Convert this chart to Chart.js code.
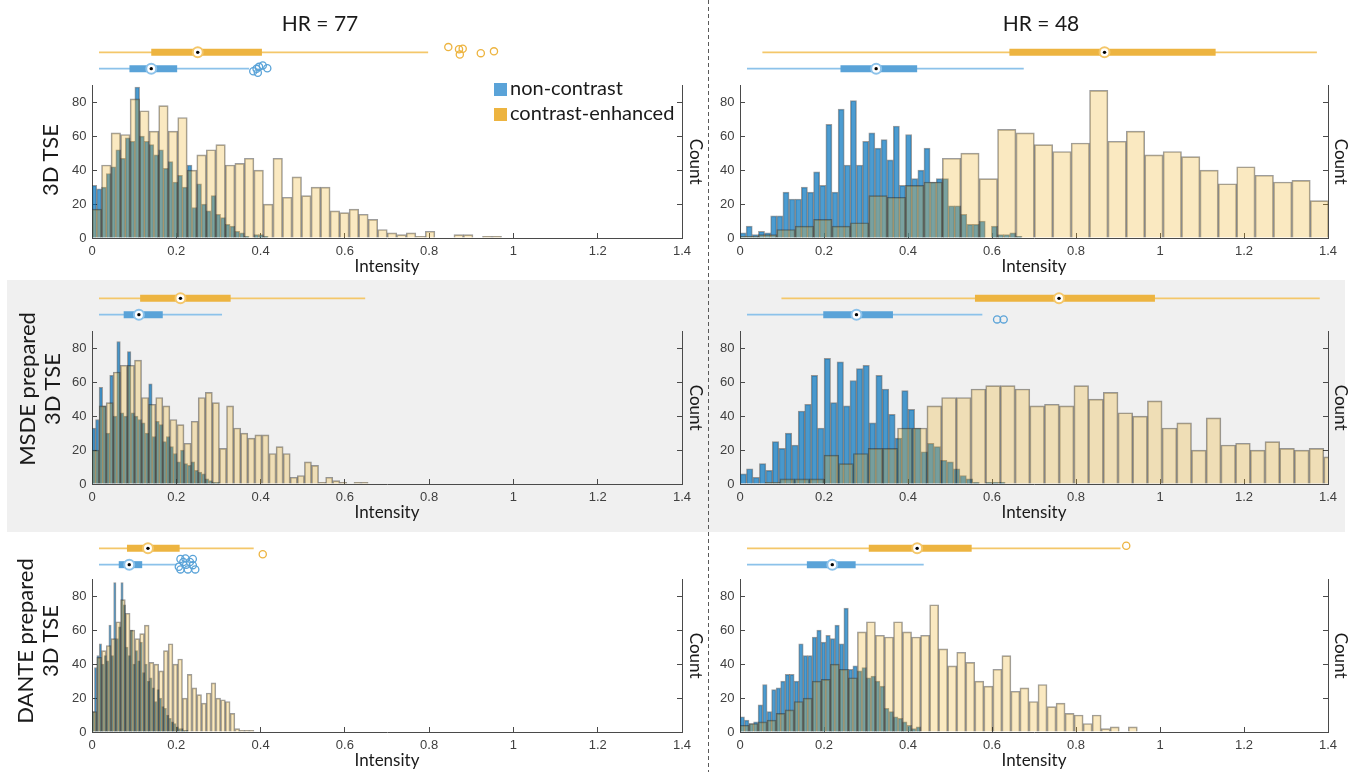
<!DOCTYPE html>
<html>
<head>
<meta charset="utf-8">
<title>Intensity histograms</title>
<script src="https://cdn.jsdelivr.net/npm/chart.js@4.4.0/dist/chart.umd.min.js"></script>
<style>
  html, body { margin: 0; padding: 0; background: #fff; overflow: hidden; }
  #page { position: relative; width: 1349px; height: 772px; font-family: Lato, sans-serif; color: #1a1a1a; }
  #page canvas { position: absolute; }
  .band { position: absolute; left: 7px; top: 280px; width: 1338px; height: 252px; background: #f0f0f0; }
  .divider {
    position: absolute; left: 708px; top: 0; width: 1.4px; height: 772px;
    background: repeating-linear-gradient(to bottom, #5a5a5a 0 4px, transparent 4px 7px);
  }
  .hr { position: absolute; font-size: 21px; white-space: nowrap; transform: translate(-50%, -50%); }
  .row-label {
    position: absolute; font-size: 22px; line-height: 25px; text-align: center; white-space: nowrap;
    transform: translate(-50%, -50%) rotate(-90deg);
  }
  .legend { position: absolute; left: 494px; top: 75px; font-size: 20px; line-height: 25px; white-space: nowrap; }
  .legend span { display: inline-block; width: 13px; height: 13px; margin-right: 3px; vertical-align: -1px; }
</style>
</head>
<body>
<div id="page">
  <div class="band"></div>
</div>
<script>
// axis ticks and labels
const intensityTicks = [0, 0.2, 0.4, 0.6, 0.8, 1, 1.2, 1.4];
const countTicks = [0, 20, 40, 60, 80];
const countMax = 90;
const columnTitles = ['HR = 77', 'HR = 48'];
const rowNames = [['3D TSE'], ['MSDE prepared', '3D TSE'], ['DANTE prepared', '3D TSE']];
const seriesNames = ['non-contrast', 'contrast-enhanced'];

// histogram counts, bins = [first edge, bin width]
const tse77Blue = [31, 29, 30, 38, 42, 52, 47, 59, 57, 89, 60, 57, 55, 49, 52, 41, 45, 33, 37, 30, 43, 18, 32, 20, 16, 25, 14, 12, 8, 7, 4, 3, 1, 0, 2, 2, 1];
const tse77BlueBins = [0, 0.0113];
const tse77Yellow = [17, 43, 62, 61, 82, 75, 63, 78, 63, 71, 40, 49, 52, 55, 43, 44, 47, 40, 20, 47, 24, 36, 25, 30, 30, 16, 15, 17, 14, 11, 5, 3, 2, 3, 1, 4, 0, 0, 2, 2, 0, 1, 1];
const tse77YellowBins = [0, 0.0226];

const tse48Blue = [3, 7, 2, 4, 3, 13, 13, 27, 23, 23, 30, 27, 39, 31, 67, 27, 76, 43, 81, 43, 57, 62, 53, 58, 46, 66, 31, 61, 35, 40, 53, 33, 35, 35, 19, 19, 14, 8, 8, 10, 0, 7, 2, 2, 3, 1];
const tse48BlueBins = [0, 0.0146];
const tse48Yellow = [1, 2, 5, 7, 11, 7, 9, 25, 24, 31, 33, 47, 50, 35, 64, 62, 55, 51, 56, 87, 57, 63, 49, 51, 48, 40, 32, 42, 37, 33, 34, 22];
const tse48YellowBins = [0, 0.0438];

const msde77Blue = [33, 38, 57, 46, 30, 64, 40, 84, 42, 40, 78, 42, 40, 38, 36, 30, 59, 28, 37, 35, 25, 28, 22, 18, 13, 20, 12, 11, 13, 8, 7, 6, 3, 2, 1, 1];
const msde77BlueBins = [0, 0.0084];
const msde77Yellow = [20, 46, 48, 66, 70, 70, 73, 51, 47, 51, 46, 38, 35, 24, 37, 51, 54, 48, 21, 46, 33, 30, 27, 29, 29, 18, 22, 18, 4, 5, 13, 11, 1, 4, 2, 1, 0, 1, 1];
const msde77YellowBins = [0, 0.0168];

const msde48Blue = [6, 9, 4, 12, 8, 25, 21, 30, 23, 43, 47, 64, 33, 74, 48, 72, 46, 61, 68, 70, 36, 64, 56, 41, 27, 55, 44, 33, 19, 24, 22, 14, 13, 9, 5, 3, 1, 0, 1, 1, 1];
const msde48BlueBins = [0, 0.0154];
const msde48Yellow = [0, 0, 1, 3, 3, 3, 17, 12, 18, 21, 21, 33, 33, 46, 51, 51, 56, 58, 58, 56, 46, 47, 46, 58, 50, 54, 42, 40, 49, 33, 36, 20, 39, 23, 24, 20, 25, 21, 20, 21, 16];
const msde48YellowBins = [-0.01, 0.035];

const dante77Blue = [12, 38, 45, 52, 40, 45, 42, 63, 45, 88, 55, 62, 88, 75, 50, 45, 60, 40, 48, 42, 53, 35, 40, 30, 32, 26, 18, 25, 20, 15, 14, 10, 8, 6, 5, 3, 2, 2, 1, 1];
const dante77BlueBins = [0, 0.0057];
const dante77Yellow = [12, 44, 48, 51, 55, 65, 78, 70, 60, 55, 58, 63, 41, 40, 36, 48, 52, 40, 43, 20, 34, 26, 22, 17, 23, 29, 20, 19, 18, 11, 2, 1, 1, 1];
const dante77YellowBins = [0, 0.0113];

const dante48Blue = [9, 7, 5, 6, 16, 28, 12, 25, 26, 30, 34, 34, 30, 52, 45, 45, 56, 60, 53, 57, 55, 63, 52, 73, 37, 39, 36, 38, 32, 33, 30, 27, 14, 12, 9, 8, 6, 4, 2, 3];
const dante48BlueBins = [0, 0.01075];
const dante48Yellow = [4, 5, 6, 7, 11, 13, 18, 20, 30, 31, 40, 37, 32, 59, 65, 57, 56, 65, 59, 56, 57, 75, 49, 39, 47, 41, 30, 27, 37, 45, 24, 26, 18, 28, 15, 17, 11, 10, 5, 10, 2, 3, 0, 3];
const dante48YellowBins = [0, 0.0215];

// box plots: [lower whisker, q1, median, q3, upper whisker]; outliers with vertical jitter
const tse77YellowBox = [0, 0.127, 0.24, 0.396, 0.8];
const tse77YellowOut = [0.849, 0.875, 0.884, 0.877, 0.928, 0.96];
const tse77YellowJit = [-0.32, -0.19, -0.22, 0.13, 0.05, -0.06];
const tse77BlueBox = [0, 0.074, 0.127, 0.19, 0.365];
const tse77BlueOut = [0.375, 0.383, 0.389, 0.398, 0.409, 0.386];
const tse77BlueJit = [0.16, 0.01, -0.11, -0.19, -0.03, 0.25];

const tse48YellowBox = [0.0375, 0.64, 0.872, 1.143, 1.39];
const tse48BlueBox = [0, 0.228, 0.315, 0.415, 0.675];

const msde77YellowBox = [0, 0.1, 0.198, 0.32, 0.647];
const msde77BlueBox = [0, 0.06, 0.097, 0.155, 0.299];

const msde48YellowBox = [0.084, 0.556, 0.761, 0.995, 1.397];
const msde48BlueBox = [0, 0.186, 0.267, 0.356, 0.574];
const msde48BlueOut = [0.61, 0.626];
const msde48BlueJit = [0.29, 0.29];

const dante77YellowBox = [0, 0.068, 0.119, 0.196, 0.376];
const dante77YellowOut = [0.398];
const dante77YellowJit = [0.36];
const dante77BlueBox = [0, 0.048, 0.0735, 0.105, 0.19];
const dante77BlueOut = [0.194, 0.198, 0.21, 0.228, 0.205, 0.221, 0.212, 0.228, 0.198, 0.216, 0.234];
const dante77BlueJit = [0.13, -0.35, -0.38, -0.35, -0.16, -0.16, 0, 0.03, 0.29, 0.29, 0.29];

const dante48YellowBox = [0, 0.297, 0.415, 0.548, 0.911];
const dante48YellowOut = [0.925];
const dante48YellowJit = [-0.16];
const dante48BlueBox = [0, 0.146, 0.208, 0.265, 0.431];

const panels = [
  { col: 0, row: 0, blue: tse77Blue, blueBins: tse77BlueBins, yellow: tse77Yellow, yellowBins: tse77YellowBins,
    blueBox: [tse77BlueBox, tse77BlueOut, tse77BlueJit], yellowBox: [tse77YellowBox, tse77YellowOut, tse77YellowJit] },
  { col: 1, row: 0, blue: tse48Blue, blueBins: tse48BlueBins, yellow: tse48Yellow, yellowBins: tse48YellowBins,
    blueBox: [tse48BlueBox, [], []], yellowBox: [tse48YellowBox, [], []] },
  { col: 0, row: 1, blue: msde77Blue, blueBins: msde77BlueBins, yellow: msde77Yellow, yellowBins: msde77YellowBins,
    blueBox: [msde77BlueBox, [], []], yellowBox: [msde77YellowBox, [], []] },
  { col: 1, row: 1, blue: msde48Blue, blueBins: msde48BlueBins, yellow: msde48Yellow, yellowBins: msde48YellowBins,
    blueBox: [msde48BlueBox, msde48BlueOut, msde48BlueJit], yellowBox: [msde48YellowBox, [], []] },
  { col: 0, row: 2, blue: dante77Blue, blueBins: dante77BlueBins, yellow: dante77Yellow, yellowBins: dante77YellowBins,
    blueBox: [dante77BlueBox, dante77BlueOut, dante77BlueJit], yellowBox: [dante77YellowBox, dante77YellowOut, dante77YellowJit] },
  { col: 1, row: 2, blue: dante48Blue, blueBins: dante48BlueBins, yellow: dante48Yellow, yellowBins: dante48YellowBins,
    blueBox: [dante48BlueBox, [], []], yellowBox: [dante48YellowBox, dante48YellowOut, dante48YellowJit] },
];

const axisColor = '#4a4a4a';
const edgeColor = 'rgba(38,38,38,0.45)';
const blueFill = 'rgba(0,114,189,0.7)';
const yellowFill = 'rgba(237,177,32,0.28)';
const blueStrong = '#5aa3d8';
const blueLight = '#8cc2ea';
const yellowStrong = '#edb440';
const yellowLight = '#f4c76a';

const X_MAX = 1.4;
const columns = [
  { left: 0, width: 712, plotLeft: 92, plotWidth: 590, leftAxis: 92, rightAxis: 30, countPad: 8.5, titleX: 320 },
  { left: 712, width: 637, plotLeft: 740, plotWidth: 588, leftAxis: 28, rightAxis: 21, countPad: 0, titleX: 1041 },
];
const rows = [
  { plotTop: 79, boxTop: 29, labelX: 49, labelY: 160 },
  { plotTop: 325, boxTop: 275, labelX: 39, labelY: 389 },
  { plotTop: 573, boxTop: 525, labelX: 37, labelY: 641 },
];
const PLOT_H = 159;
const PAD_TOP = 12;
const XAXIS_H = 39;

Chart.defaults.font.family = "'Liberation Sans', Arial, sans-serif";
Chart.defaults.color = '#404040';

const page = document.getElementById('page');

function addCanvas(left, top, w, h) {
  const c = document.createElement('canvas');
  c.width = w;
  c.height = h;
  c.style.left = left + 'px';
  c.style.top = top + 'px';
  c.style.width = w + 'px';
  c.style.height = h + 'px';
  page.appendChild(c);
  return c;
}

function bars(counts, bins) {
  return counts.map((c, k) => ({ x: bins[0] + (k + 0.5) * bins[1], y: c }));
}

function setTicks(values) {
  return (scale) => {
    scale.ticks = values.map((v) => ({ value: v }));
  };
}

function histChart(p) {
  const col = columns[p.col];
  const row = rows[p.row];
  const canvas = addCanvas(col.left, row.plotTop - PAD_TOP, col.width, PAD_TOP + PLOT_H + XAXIS_H);
  const grid = { drawOnChartArea: false, tickLength: -5, color: axisColor, offset: false };
  // one bar per bin, as wide as the bin on the intensity scale
  const barStyle = (bins) => ({
    borderColor: edgeColor,
    borderWidth: 1,
    borderSkipped: 'start',
    grouped: false,
    barThickness: (bins[1] * col.plotWidth) / X_MAX,
    yAxisID: 'y',
  });
  new Chart(canvas, {
    type: 'bar',
    data: {
      datasets: [
        { ...barStyle(p.yellowBins), label: seriesNames[1], data: bars(p.yellow, p.yellowBins), xAxisID: 'x2', backgroundColor: yellowFill },
        { ...barStyle(p.blueBins), label: seriesNames[0], data: bars(p.blue, p.blueBins), xAxisID: 'x', backgroundColor: blueFill },
      ],
    },
    options: {
      responsive: false,
      animation: false,
      layout: { padding: { top: PAD_TOP, left: 0, right: 0, bottom: 0 } },
      plugins: { legend: { display: false }, tooltip: { enabled: false } },
      scales: {
        x: {
          type: 'linear',
          position: 'bottom',
          min: 0,
          max: X_MAX,
          offset: false,
          grid: grid,
          border: { color: axisColor, width: 1 },
          afterBuildTicks: setTicks(intensityTicks),
          ticks: {
            font: { size: 13 },
            padding: 11,
            maxRotation: 0,
            autoSkip: false,
            callback: (v) => String(Math.round(v * 10) / 10),
          },
          title: {
            display: true,
            text: 'Intensity',
            color: '#1a1a1a',
            font: { family: 'Lato', size: 17, lineHeight: 1.2 },
            padding: { top: 0, bottom: 0 },
          },
          afterFit: (s) => { s.height = XAXIS_H; },
        },
        x2: {
          type: 'linear',
          display: false,
          min: 0,
          max: X_MAX,
          offset: false,
          afterBuildTicks: setTicks(intensityTicks),
        },
        y: {
          type: 'linear',
          position: 'left',
          min: 0,
          max: countMax,
          grid: grid,
          border: { color: axisColor, width: 1 },
          afterBuildTicks: setTicks(countTicks),
          ticks: { font: { size: 13 }, padding: 10.5 },
          afterFit: (s) => { s.width = col.leftAxis; },
        },
        y2: {
          type: 'linear',
          position: 'right',
          min: 0,
          max: countMax,
          grid: grid,
          border: { color: axisColor, width: 1 },
          afterBuildTicks: setTicks(countTicks),
          ticks: { display: false },
          title: {
            display: true,
            text: 'Count',
            color: '#1a1a1a',
            font: { family: 'Lato', size: 17, lineHeight: 1 },
            padding: { top: col.countPad, bottom: 0 },
          },
          afterFit: (s) => { s.width = col.rightAxis; },
        },
      },
    },
  });
}

function boxSets(box, level, strong, light) {
  const [stats, out, jit] = box;
  const [lo, q1, med, q3, hi] = stats;
  const base = { type: 'line', clip: false, pointHoverRadius: 0 };
  return [
    { ...base, data: [{ x: med, y: level }], showLine: false, pointRadius: 1.7,
      pointBackgroundColor: '#000', pointBorderWidth: 0, order: 0 },
    { ...base, data: [{ x: med, y: level }], showLine: false, pointRadius: 5,
      pointBackgroundColor: '#fff', pointBorderColor: light, pointBorderWidth: 2, order: 1 },
    { ...base, data: out.map((v, i) => ({ x: v, y: level + jit[i] })), showLine: false, pointRadius: 3.6,
      pointBackgroundColor: 'rgba(0,0,0,0)', pointBorderColor: strong, pointBorderWidth: 1.3, order: 2 },
    { ...base, data: [{ x: q1, y: level }, { x: q3, y: level }], borderColor: strong, borderWidth: 7,
      borderCapStyle: 'butt', pointRadius: 0, order: 3 },
    { ...base, data: [{ x: lo, y: level }, { x: hi, y: level }], borderColor: light, borderWidth: 1.6,
      pointRadius: 0, order: 4 },
  ];
}

function boxChart(p) {
  const col = columns[p.col];
  const row = rows[p.row];
  const canvas = addCanvas(col.plotLeft, row.boxTop, col.plotWidth, 63);
  new Chart(canvas, {
    type: 'line',
    data: {
      datasets: [
        ...boxSets(p.yellowBox, 1, yellowStrong, yellowLight),
        ...boxSets(p.blueBox, 2, blueStrong, blueLight),
      ],
    },
    options: {
      responsive: false,
      animation: false,
      layout: { padding: 0 },
      plugins: { legend: { display: false }, tooltip: { enabled: false } },
      scales: {
        x: { type: 'linear', min: 0, max: X_MAX, display: false },
        y: { type: 'linear', min: 0, max: 3, reverse: true, display: false },
      },
    },
  });
}

panels.forEach(histChart);
panels.forEach(boxChart);

function addText(cls, html, x, y) {
  const d = document.createElement('div');
  d.className = cls;
  d.innerHTML = html;
  if (x !== undefined) {
    d.style.left = x + 'px';
    d.style.top = y + 'px';
  }
  page.appendChild(d);
  return d;
}

columns.forEach((c, i) => addText('hr', columnTitles[i], c.titleX, 22));
rows.forEach((r, i) => addText('row-label', rowNames[i].join('<br>'), r.labelX, r.labelY));

const legend = addText('legend', '');
legend.innerHTML =
  '<div><span style="background:' + blueStrong + '"></span>' + seriesNames[0] + '</div>' +
  '<div><span style="background:' + yellowStrong + '"></span>' + seriesNames[1] + '</div>';

const divider = document.createElement('div');
divider.className = 'divider';
page.appendChild(divider);
</script>
</body>
</html>
